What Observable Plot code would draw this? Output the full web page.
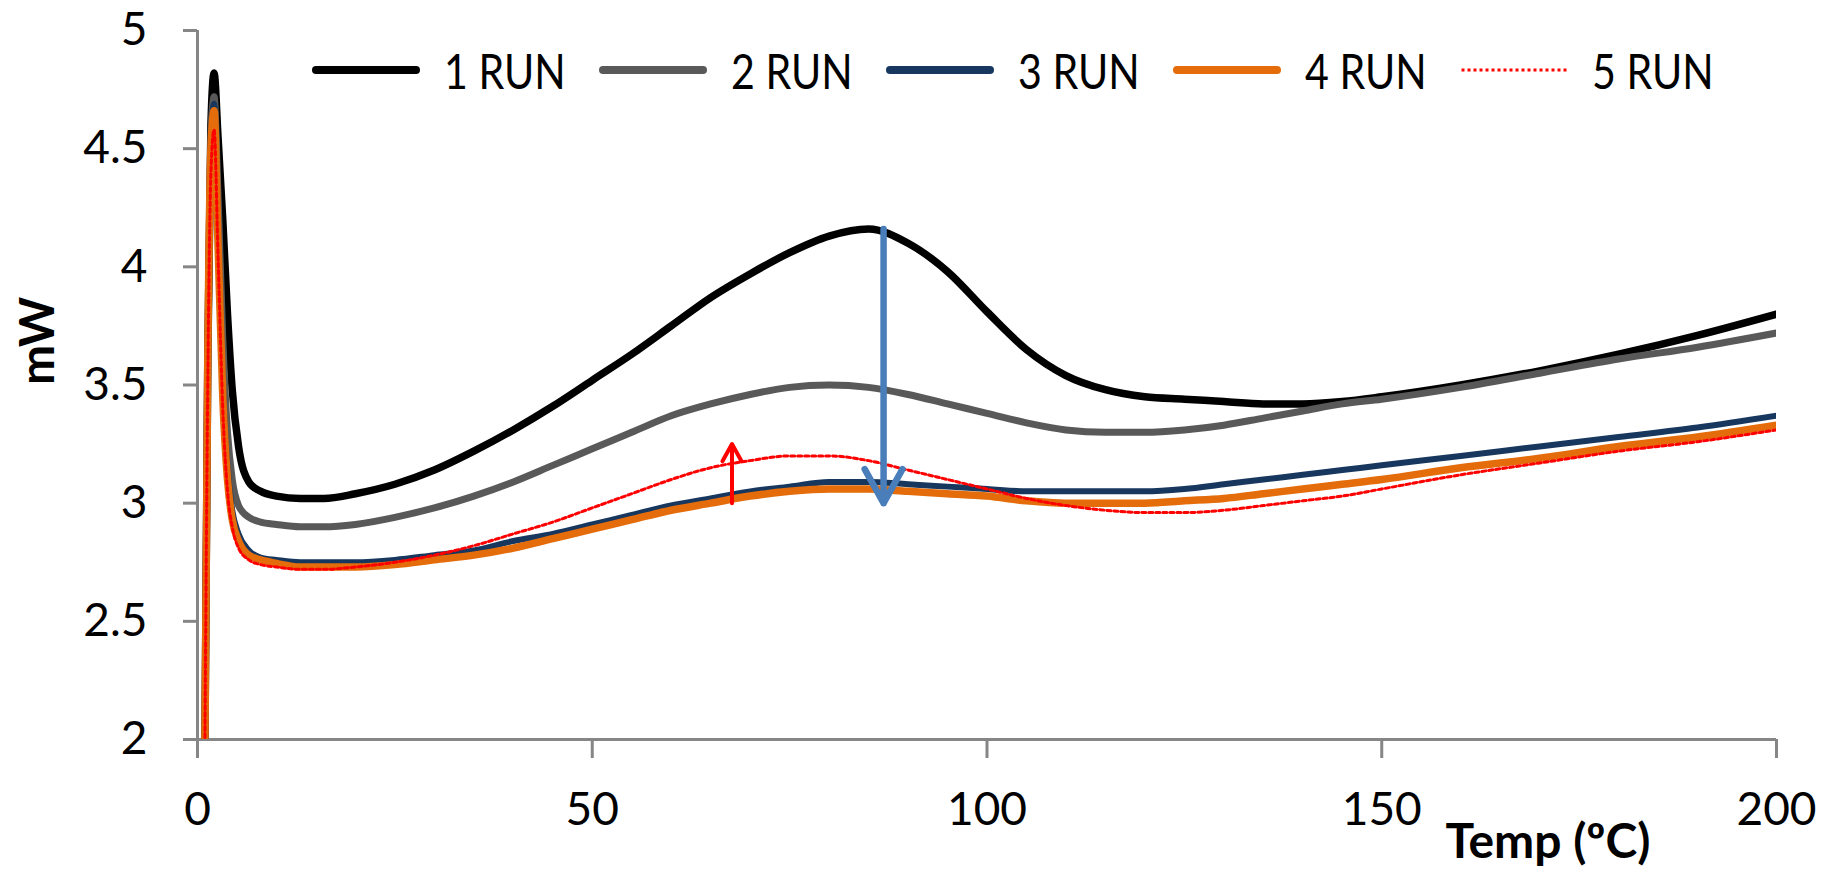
<!DOCTYPE html>
<html><head><meta charset="utf-8">
<script src="https://cdn.jsdelivr.net/npm/d3@7"></script>
<script src="https://cdn.jsdelivr.net/npm/@observablehq/plot@0.6"></script>
<style>
body{margin:0;background:#fff;}
#wrap{position:relative;width:1833px;height:872px;overflow:hidden;background:#fff;}
#legend{position:absolute;left:312px;top:46px;display:flex;font-family:Lato,sans-serif;color:#000;}
.item{display:flex;align-items:center;width:287px;height:48px;}
.item svg{flex:none;}
.lab{font-size:49px;margin-left:24px;transform:scaleX(0.84);transform-origin:left center;white-space:nowrap;line-height:48px;}
</style></head><body><div id="wrap"><div id="legend"></div></div>
<script>
// ---- data ----
const temps = [0.9, 1.3, 1.7, 2.1, 2.6, 3.2, 3.8, 4.4, 5.2, 6.5, 8, 10, 13, 16, 20,
  25, 30, 35, 40, 45, 50, 55, 60, 65, 70, 75, 80, 85, 90, 95, 100, 105, 110, 115, 120, 125, 130, 135, 140, 145, 150,
  160, 170, 180, 190, 200];
const run1 = [1.8, 3.6, 4.6, 4.82, 4.55, 4.2, 3.8, 3.48, 3.24, 3.09, 3.05, 3.03, 3.02, 3.02, 3.04,
  3.08, 3.14, 3.22, 3.31, 3.41, 3.52, 3.63, 3.75, 3.87, 3.97, 4.06, 4.13, 4.16, 4.10, 3.98, 3.81, 3.65, 3.54, 3.48, 3.45, 3.44, 3.43, 3.42, 3.42, 3.43, 3.45,
  3.50, 3.56, 3.63, 3.71, 3.80];
const run2 = [1.8, 3.6, 4.55, 4.72, 4.3, 3.7, 3.3, 3.1, 2.99, 2.94, 2.92, 2.91, 2.90, 2.90, 2.91,
  2.94, 2.98, 3.03, 3.09, 3.16, 3.23, 3.30, 3.37, 3.42, 3.46, 3.49, 3.50, 3.49, 3.46, 3.42, 3.38, 3.34, 3.31, 3.30, 3.30, 3.31, 3.33, 3.36, 3.39, 3.42, 3.44,
  3.49, 3.55, 3.61, 3.66, 3.72];
const run3 = [1.8, 3.6, 4.55, 4.69, 4.15, 3.5, 3.15, 2.97, 2.87, 2.80, 2.77, 2.76, 2.75, 2.75, 2.75,
  2.76, 2.78, 2.80, 2.84, 2.87, 2.91, 2.95, 2.99, 3.02, 3.05, 3.07, 3.09, 3.09, 3.08, 3.07, 3.06, 3.05, 3.05, 3.05, 3.05, 3.06, 3.08, 3.10, 3.12, 3.14, 3.16,
  3.20, 3.24, 3.28, 3.32, 3.37];
const run4 = [1.8, 3.6, 4.5, 4.66, 4.1, 3.45, 3.1, 2.93, 2.84, 2.78, 2.76, 2.745, 2.73, 2.73, 2.73,
  2.74, 2.76, 2.78, 2.81, 2.85, 2.89, 2.93, 2.97, 3.00, 3.03, 3.05, 3.06, 3.06, 3.05, 3.04, 3.03, 3.01, 3.00, 3.00, 3.00, 3.01, 3.02, 3.04, 3.06, 3.08, 3.10,
  3.15, 3.19, 3.24, 3.28, 3.33];
const run5 = [1.8, 3.5, 4.4, 4.58, 4.05, 3.4, 3.05, 2.9, 2.81, 2.76, 2.74, 2.73, 2.72, 2.72, 2.73,
  2.75, 2.78, 2.82, 2.87, 2.92, 2.98, 3.04, 3.10, 3.15, 3.18, 3.20, 3.20, 3.18, 3.14, 3.10, 3.06, 3.02, 2.99, 2.97, 2.96, 2.96, 2.97, 2.99, 3.01, 3.03, 3.06,
  3.12, 3.17, 3.22, 3.26, 3.31];
const seriesNames = ["1 RUN", "2 RUN", "3 RUN", "4 RUN", "5 RUN"];
const xTicks = [0, 50, 100, 150, 200];
const yTicks = [2, 2.5, 3, 3.5, 4, 4.5, 5];
// annotation arrows: x position, start value, end value
const arrowX = [86.9, 67.7];
const arrowFrom = [4.16, 3.0];
const arrowTo = [3.0, 3.25];

// ---- styles ----
const seriesColors = ["#000000", "#595959", "#17375e", "#e46c0a", "#ff0000"];
const seriesWidths = [7.5, 7, 6, 7.5, 3];
const seriesDash = [null, null, null, null, "4,3"];
const arrowColors = ["#4a7ebb", "#ff0000"];
const arrowWidths = [6.5, 4];
const arrowHeads = [9, 9];

const seriesValues = [run1, run2, run3, run4, run5];
const rows = seriesNames.flatMap((name, s) => temps.map((t, i) => ({temp: t, mW: seriesValues[s][i], run: name})));
const arrows = arrowX.map((x, i) => ({x, y1: arrowFrom[i], y2: arrowTo[i]}));

const axisGray = "#868686";
const chart = Plot.plot({
  width: 1833, height: 872,
  marginLeft: 197, marginRight: 57, marginTop: 30, marginBottom: 133,
  style: {fontFamily: "Lato, sans-serif", fontSize: "46px", background: "white", color: "black", overflow: "visible"},
  x: {domain: [0, 200], label: null},
  y: {domain: [2, 5], label: null},
  marks: [
    Plot.ruleX([0], {stroke: axisGray, strokeWidth: 3}),
    Plot.ruleY([2], {stroke: axisGray, strokeWidth: 3}),
    Plot.axisX({ticks: xTicks, tickSize: 19, tickPadding: 34, stroke: axisGray, strokeWidth: 3, fill: "black", fontSize: 46, label: null, tickFormat: d => String(d)}),
    Plot.axisY({ticks: yTicks, tickSize: 14, tickPadding: 36, stroke: axisGray, strokeWidth: 3, fill: "black", fontSize: 46, label: null, tickFormat: d => String(d)}),
    ...seriesNames.map((name, s) => Plot.line(rows.filter(d => d.run === name), {
      x: "temp", y: "mW", stroke: seriesColors[s], strokeWidth: seriesWidths[s],
      strokeDasharray: seriesDash[s], curve: "monotone-x", clip: true
    })),
    ...arrows.map((a, i) => Plot.arrow([a], {x1: "x", x2: "x", y1: "y1", y2: "y2",
      stroke: arrowColors[i], strokeWidth: arrowWidths[i], headLength: arrowHeads[i], headAngle: 58})),
    Plot.text(["mW"], {frameAnchor: "left", rotate: -90, dx: -159, fontSize: 48, fontWeight: "bold", fill: "black"}),
    Plot.text(["Temp (ºC)"], {frameAnchor: "bottom-right", textAnchor: "end", lineAnchor: "bottom", dx: -126, dy: 118, fontSize: 48, fontWeight: "bold", fill: "black"})
  ]
});
const wrap = document.getElementById("wrap");
wrap.insertBefore(chart, wrap.firstChild);

const legend = document.getElementById("legend");
seriesNames.forEach((name, s) => {
  const item = document.createElement("div");
  item.className = "item";
  const w = s === 4 ? 3 : 8;
  item.innerHTML = `<svg width="108" height="14"><line x1="${w/2}" x2="${108 - w/2}" y1="7" y2="7" stroke="${seriesColors[s]}" stroke-width="${w}" ${seriesDash[s] ? `stroke-dasharray="3,3"` : `stroke-linecap="round"`}/></svg><span class="lab">${name}</span>`;
  legend.appendChild(item);
});
</script></body></html>
